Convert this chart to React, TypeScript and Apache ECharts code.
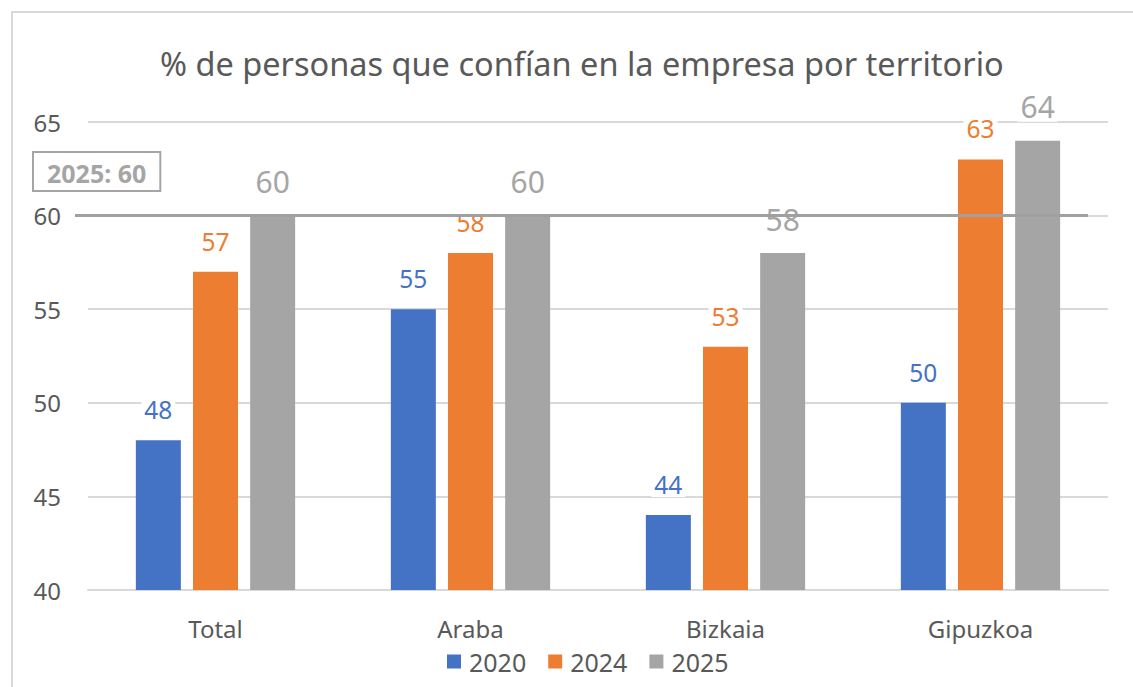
import React, { useEffect, useRef } from "react";
import * as echarts from "echarts";

const TITLE = "% de personas que confían en la empresa por territorio";
const categories = ["Total", "Araba", "Bizkaia", "Gipuzkoa"];
const seriesNames = ["2020", "2024", "2025"];
const values2020 = [48, 55, 44, 50];
const values2024 = [57, 58, 53, 63];
const values2025 = [60, 60, 58, 64];
const REF_LABEL = "2025";
const REF_VALUE = 60;
const yTicks = { min: 40, max: 65, interval: 5 };

const COLORS = ["#4472c4", "#ed7d31", "#a5a5a5"];
const FONT = "'Noto Sans', sans-serif";
const TEXT = "#595959";

export default function App() {
  const ref = useRef<HTMLDivElement>(null);
  useEffect(() => {
    document.body.style.margin = "0";
    if (!ref.current) return;
    const chart = echarts.init(ref.current, null, { renderer: "svg" });
    const all = [values2020, values2024, values2025];
    chart.setOption({
      animation: false,
      backgroundColor: "#ffffff",
      textStyle: { fontFamily: FONT },
      title: {
        text: TITLE,
        left: 155,
        top: 42,
        textStyle: { fontFamily: FONT, fontSize: 32.5, fontWeight: "normal", color: TEXT },
      },
      legend: {
        bottom: 8,
        left: 442,
        itemWidth: 14,
        itemHeight: 14,
        itemGap: 22,
        icon: "rect",
        textStyle: { fontFamily: FONT, fontSize: 25, color: TEXT, padding: [0, 0, 0, 3] },
        data: seriesNames,
      },
      grid: { left: 88, right: 25, top: 122, bottom: 97, containLabel: false },
      xAxis: {
        type: "category",
        data: categories,
        axisLine: { show: true, lineStyle: { color: "#d9d9d9", width: 2 } },
        axisTick: { show: false },
        axisLabel: { fontFamily: FONT, fontSize: 24, color: TEXT, margin: 26 },
      },
      yAxis: {
        type: "value",
        min: yTicks.min,
        max: yTicks.max,
        interval: yTicks.interval,
        axisLine: { show: false },
        axisTick: { show: false },
        axisLabel: { fontFamily: FONT, fontSize: 24, color: TEXT, margin: 27 },
        splitLine: { lineStyle: { color: "#d9d9d9", width: 2 } },
      },
      graphic: [
        {
          type: "rect",
          shape: { x: 12, y: 12, width: 1160, height: 720 },
          style: { fill: "none", stroke: "#d9d9d9", lineWidth: 2 },
          silent: true,
          z: -10,
        },
        {
          type: "text",
          x: 34,
          y: 153,
          style: {
            text: `${REF_LABEL}: ${REF_VALUE}`,
            fontFamily: FONT,
            fontSize: 25,
            fontWeight: "bold",
            fill: "#a5a5a5",
            backgroundColor: "#ffffff",
            borderColor: "#a5a5a5",
            borderWidth: 2,
            padding: [7, 13, 5, 13],
          },
          z: 100,
        },
      ],
      series: seriesNames.map((name, i) => ({
        name,
        type: "bar",
        data: all[i],
        barWidth: 45,
        barGap: "27%",
        itemStyle: { color: COLORS[i] },
        label: {
          show: true,
          position: "top",
          distance: i === 2 ? 19 : 18,
          fontFamily: FONT,
          fontSize: i === 2 ? 30 : 24.5,
          color: COLORS[i],
          backgroundColor: "#ffffff",
          padding: [0, 3],
        },
        z: 2,
        ...(i === 2
          ? {
              markLine: {
                silent: true,
                symbol: "none",
                label: { show: false },
                lineStyle: { color: "#a0a0a0", width: 3, type: "solid" },
                z: 10,
                data: [[{ x: 75, yAxis: REF_VALUE }, { x: 1088, yAxis: REF_VALUE }]],
              },
            }
          : {}),
      })),
    });
    return () => chart.dispose();
  }, []);
  return <div ref={ref} style={{ width: 1133, height: 687 }} />;
}
